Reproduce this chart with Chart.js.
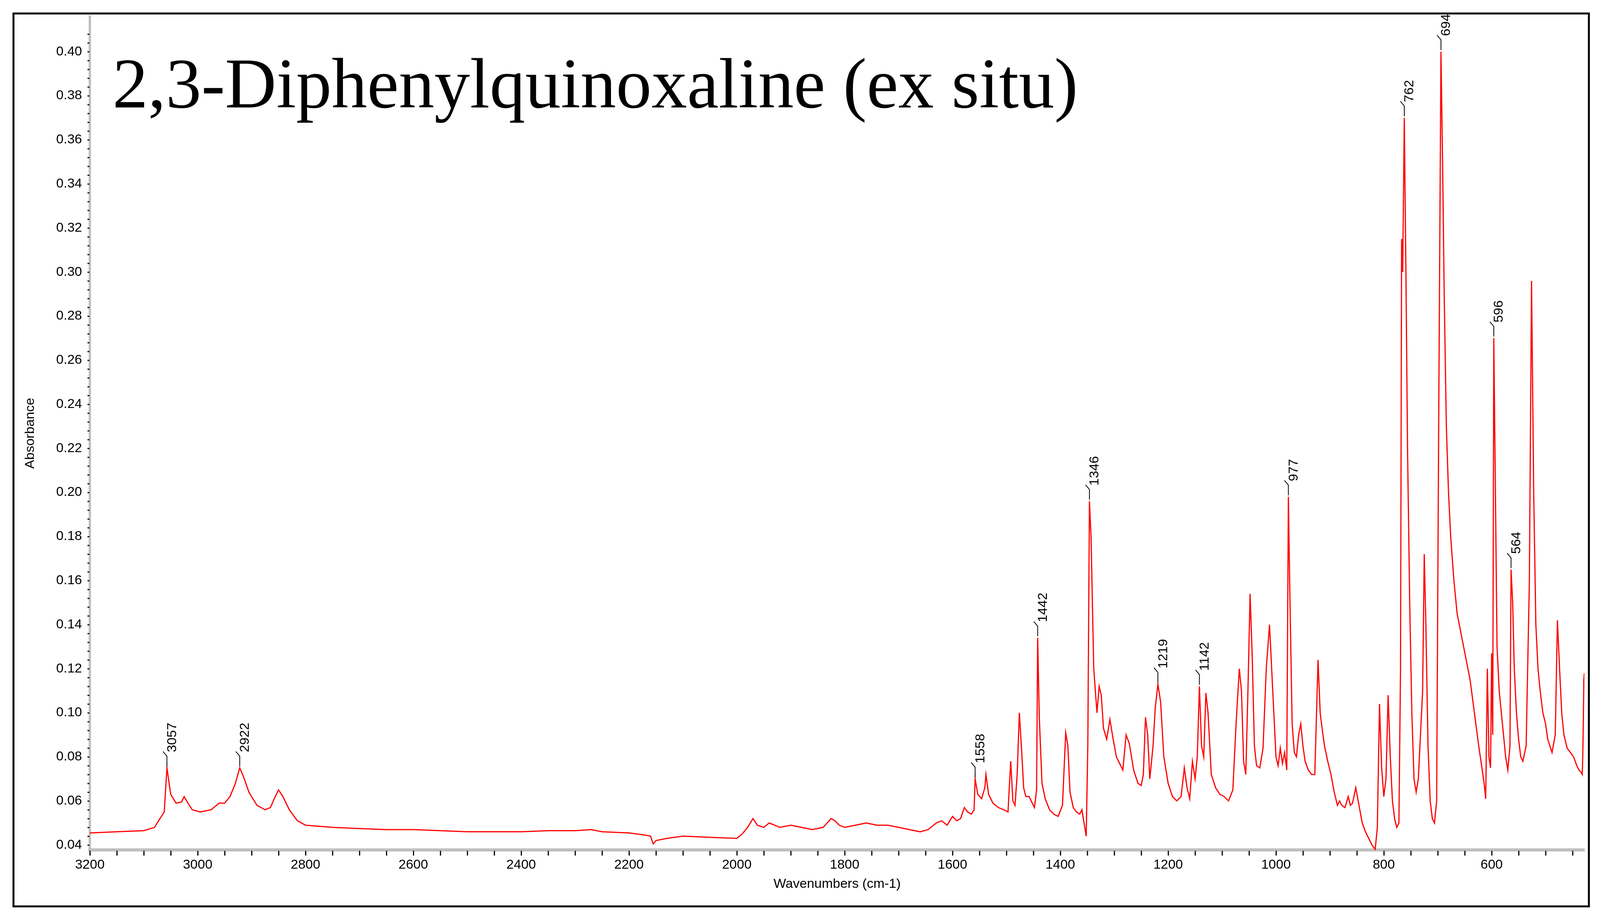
<!DOCTYPE html>
<html><head><meta charset="utf-8">
<script src="https://cdn.jsdelivr.net/npm/chart.js@4"></script>
<style>
html,body{margin:0;padding:0;background:#fff;overflow:hidden;width:100vw;height:100vh;}
#frame{position:fixed;left:32px;top:32px;right:26px;bottom:40px;border:5px solid #000;pointer-events:none;}
#c{position:fixed;left:0;top:0;}
</style></head><body>
<canvas id="c"></canvas><div id="frame"></div>
<script>
const W = window.innerWidth, H = window.innerHeight;
const cv=document.getElementById('c'); cv.width=W; cv.height=H; cv.style.width=W+'px'; cv.style.height=H+'px';
const wavenumbers = [
3200,3150,3100,3080,3070,3062,3057,3050,3040,3030,
3025,3018,3010,2995,2975,2960,2950,2940,2930,2922,
2915,2905,2890,2875,2865,2858,2850,2842,2830,2815,
2800,2750,2700,2650,2600,2550,2500,2450,2400,2350,
2300,2270,2250,2200,2170,2160,2155,2150,2130,2100,
2050,2000,1990,1980,1970,1962,1950,1940,1920,1900,
1880,1860,1840,1825,1818,1810,1800,1780,1760,1740,
1720,1700,1680,1660,1645,1630,1620,1610,1600,1592,
1585,1578,1572,1565,1560,1558,1553,1546,1540,1538,
1533,1525,1515,1505,1497,1492,1488,1484,1480,1476,
1472,1468,1464,1458,1452,1448,1444,1442,1439,1434,
1428,1420,1412,1404,1396,1390,1386,1382,1376,1370,
1364,1360,1356,1352,1349,1346,1343,1338,1332,1328,
1324,1320,1314,1308,1302,1296,1290,1284,1278,1272,
1264,1256,1250,1246,1242,1238,1234,1228,1224,1219,
1214,1208,1200,1192,1184,1176,1170,1165,1160,1155,
1150,1146,1142,1138,1134,1130,1126,1120,1112,1104,
1096,1088,1080,1074,1068,1064,1060,1056,1052,1048,
1044,1040,1036,1030,1024,1018,1012,1006,1000,996,
992,988,984,980,977,974,970,966,962,958,
954,950,946,940,934,928,922,918,914,910,
904,898,892,886,882,878,872,866,862,858,
852,846,840,834,828,822,816,812,808,804,
800,796,792,788,784,780,776,772,769,767,
765,762,759,756,752,748,744,740,736,732,
728,725,722,718,714,710,706,702,698,694,
691,688,684,680,676,670,664,656,648,640,
632,624,618,614,611,608,605,602,600,598,
596,593,590,586,582,578,574,570,566,564,
561,558,554,550,546,542,536,530,526,522,
518,514,510,505,500,496,492,488,482,478,
474,470,466,460,454,448,442,438,434,432,
431,430,429,428];
const absorbance = [
0.0455,0.046,0.0465,0.048,0.052,0.055,0.075,0.063,0.059,0.0595,
0.062,0.059,0.056,0.055,0.056,0.059,0.059,0.062,0.068,0.075,
0.071,0.064,0.058,0.056,0.057,0.061,0.065,0.062,0.056,0.051,
0.049,0.048,0.0475,0.047,0.047,0.0465,0.046,0.046,0.046,0.0465,
0.0465,0.047,0.046,0.0455,0.0445,0.044,0.0405,0.042,0.043,0.044,
0.0435,0.043,0.045,0.048,0.052,0.049,0.048,0.050,0.048,0.049,
0.048,0.047,0.048,0.052,0.051,0.049,0.048,0.049,0.050,0.049,
0.049,0.048,0.047,0.046,0.047,0.050,0.051,0.049,0.053,0.051,
0.052,0.057,0.055,0.054,0.056,0.070,0.063,0.061,0.066,0.072,
0.063,0.059,0.057,0.056,0.055,0.078,0.060,0.058,0.072,0.100,
0.084,0.066,0.062,0.062,0.059,0.057,0.065,0.134,0.098,0.068,
0.061,0.056,0.054,0.053,0.058,0.091,0.085,0.064,0.057,0.055,
0.054,0.056,0.050,0.044,0.085,0.196,0.180,0.120,0.100,0.112,
0.108,0.093,0.088,0.097,0.088,0.080,0.077,0.074,0.090,0.086,
0.074,0.068,0.067,0.072,0.098,0.090,0.070,0.085,0.102,0.113,
0.105,0.080,0.068,0.062,0.060,0.062,0.075,0.066,0.061,0.078,
0.070,0.080,0.112,0.085,0.080,0.109,0.100,0.072,0.066,0.063,
0.062,0.060,0.065,0.095,0.120,0.110,0.078,0.072,0.110,0.154,
0.125,0.085,0.076,0.075,0.084,0.120,0.140,0.110,0.080,0.076,
0.084,0.077,0.082,0.074,0.198,0.150,0.095,0.082,0.080,0.090,
0.095,0.085,0.078,0.074,0.072,0.072,0.124,0.100,0.092,0.085,
0.078,0.072,0.064,0.058,0.060,0.058,0.057,0.062,0.058,0.059,
0.066,0.058,0.050,0.046,0.043,0.040,0.038,0.048,0.104,0.075,
0.062,0.070,0.108,0.080,0.060,0.052,0.048,0.050,0.120,0.315,
0.300,0.370,0.300,0.220,0.150,0.100,0.070,0.064,0.070,0.090,
0.110,0.172,0.140,0.085,0.060,0.052,0.050,0.060,0.240,0.400,
0.350,0.290,0.230,0.200,0.180,0.160,0.145,0.135,0.125,0.115,
0.100,0.085,0.075,0.068,0.061,0.120,0.080,0.075,0.127,0.090,
0.270,0.200,0.130,0.110,0.100,0.090,0.080,0.074,0.085,0.165,
0.150,0.120,0.100,0.088,0.080,0.078,0.085,0.160,0.296,0.200,
0.140,0.120,0.110,0.100,0.095,0.088,0.085,0.082,0.090,0.142,
0.120,0.100,0.090,0.084,0.082,0.080,0.076,0.074,0.073,0.072,
0.080,0.095,0.115,0.118];
const peakLabels = [3057,2922,1558,1442,1346,1219,1142,977,762,694,596,564];
const yTicks = [0.04,0.06,0.08,0.10,0.12,0.14,0.16,0.18,0.20,0.22,0.24,0.26,0.28,0.30,0.32,0.34,0.36,0.38,0.40];
const xTicks = [3200,3000,2800,2600,2400,2200,2000,1800,1600,1400,1200,1000,800,600];
const chartTitle = "2,3-Diphenylquinoxaline (ex situ)";

const pts = wavenumbers.map((w,i)=>({x:w,y:absorbance[i]}));
function valAt(w){const i=wavenumbers.indexOf(w);return i>=0?absorbance[i]:0.05;}

const labelPlugin = {
  id:'peaks',
  afterDatasetsDraw(chart){
    const {ctx,scales:{x,y}} = chart;
    ctx.save();
    ctx.strokeStyle='#000';ctx.lineWidth=2;ctx.fillStyle='#000';
    ctx.font='34px "Liberation Sans", Arial, sans-serif';
    peakLabels.forEach(p=>{
      const px=x.getPixelForValue(p), py=y.getPixelForValue(valAt(p));
      ctx.beginPath();ctx.moveTo(px,py-4);ctx.lineTo(px,py-30);ctx.lineTo(px-10,py-42);ctx.stroke();
      ctx.save();ctx.translate(px+14,py-40);ctx.rotate(-Math.PI/2);
      ctx.textAlign='left';ctx.textBaseline='middle';ctx.fillText(String(p),0,0);ctx.restore();
    });
    ctx.font='182px "Liberation Serif", serif';
    ctx.textAlign='left';ctx.textBaseline='alphabetic';
    ctx.fillText(chartTitle, 288, 275);
    for(let v=0.04;v<=0.4101;v+=0.004){const yy=y.getPixelForValue(v);ctx.fillRect(x.left-6,yy-1,5,3);}
    for(let w=3200;w>=430;w-=50){const xx=x.getPixelForValue(w);ctx.fillRect(xx-1,y.bottom+2,3,12);}
    ctx.restore();
  }
};

new Chart(cv,{
  type:'line',
  data:{datasets:[{data:pts,borderColor:'#ff0000',borderWidth:3,pointRadius:0,tension:0,fill:false}]},
  options:{
    responsive:false,animation:false,devicePixelRatio:1,
    layout:{padding:{left:53,right:40,top:42,bottom:75}},
    plugins:{legend:{display:false},tooltip:{enabled:false}},
    scales:{
      x:{type:'linear',reverse:true,min:428,max:3200,
        afterBuildTicks(s){s.ticks=xTicks.map(v=>({value:v}));},
        ticks:{color:'#000',font:{size:34,family:'"Liberation Sans", Arial'},padding:4,maxRotation:0,autoSkip:false,callback:v=>String(v)},
        grid:{display:false,drawTicks:true,tickLength:14,tickColor:'#000'},
        border:{color:'#bfbfbf',width:8},
        title:{display:true,text:'Wavenumbers (cm-1)',color:'#000',font:{size:34,family:'"Liberation Sans", Arial'},padding:{top:4}}},
      y:{min:0.0377,max:0.416,
        afterBuildTicks(s){s.ticks=yTicks.map(v=>({value:v}));},
        ticks:{color:'#000',font:{size:34,family:'"Liberation Sans", Arial'},padding:6,callback:v=>v.toFixed(2)},
        grid:{display:false,drawTicks:true,tickLength:14,tickColor:'#000'},
        border:{color:'#bfbfbf',width:6},
        title:{display:true,text:'Absorbance',color:'#000',font:{size:34,family:'"Liberation Sans", Arial'},padding:{bottom:40}}}
    }
  },
  plugins:[labelPlugin]
});
</script></body></html>
